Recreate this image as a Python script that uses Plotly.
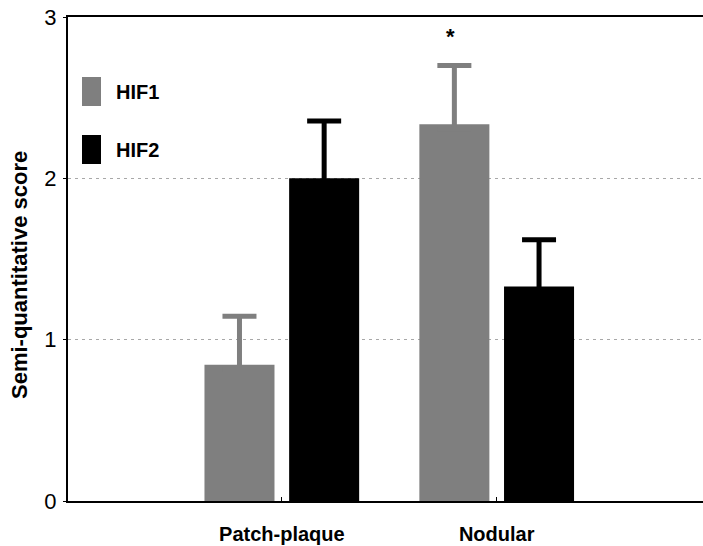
import plotly.graph_objects as go

categories = ["Patch-plaque", "Nodular"]
hif1 = [0.845, 2.335]
hif1_err = [0.30, 0.365]
hif2 = [2.0, 1.33]
hif2_err = [0.355, 0.29]
y_ticks = [0, 1, 2, 3]

FONT = "Liberation Sans, Arial, sans-serif"
GRAY = "#7f7f7f"

# lower end of the one-sided error bars is tucked inside the bar so its cap is hidden
hidden_minus = [0.03] * len(categories)

fig = go.Figure()
fig.add_trace(go.Bar(
    x=categories, y=hif1, name="HIF1", marker=dict(color=GRAY, line=dict(width=0)),
    error_y=dict(type="data", array=hif1_err, arrayminus=hidden_minus, symmetric=False,
                 color=GRAY, thickness=5, width=17),
))
fig.add_trace(go.Bar(
    x=categories, y=hif2, name="HIF2", marker=dict(color="#000000", line=dict(width=0)),
    error_y=dict(type="data", array=hif2_err, arrayminus=hidden_minus, symmetric=False,
                 color="#000000", thickness=5, width=17),
))

fig.update_layout(
    width=703, height=546,
    margin=dict(l=68, r=0, t=17, b=45),
    paper_bgcolor="white", plot_bgcolor="white",
    barmode="group", bargap=0.212, bargroupgap=0.173,
    showlegend=False,
    font=dict(family=FONT, color="#000"),
    xaxis=dict(
        range=[-0.995, 1.96], showline=True, linecolor="#000", linewidth=2,
        mirror=True, ticks="inside", ticklen=4, tickcolor="#000", tickwidth=1,
        showgrid=False, zeroline=False,
        tickfont=dict(family=FONT, size=20, color="#000", weight="bold"),
        ticklabelstandoff=14,
    ),
    yaxis=dict(
        range=[0, 3], tickvals=y_ticks, ticktext=[str(v) for v in y_ticks],
        showline=True, linecolor="#000", linewidth=2, mirror=False,
        ticks="outside", ticklen=3, tickcolor="#000",
        showgrid=True, gridcolor="#a8a8a8", griddash="3px,4px", gridwidth=1,
        zeroline=False, tickfont=dict(family=FONT, size=22, color="#000"),
        ticklabelstandoff=2,
    ),
)

# y-axis title
fig.add_annotation(
    text="<b>Semi-quantitative score</b>", textangle=-90,
    xref="paper", yref="paper", x=(19 - 68) / 635, y=(501 - 275) / 484,
    xanchor="center", yanchor="middle",
    showarrow=False, font=dict(family=FONT, size=22, color="#000"),
)

# significance asterisk above Nodular HIF1
fig.add_annotation(
    text="<b>*</b>", x=categories[1], y=hif1[1] + hif1_err[1],
    xshift=-46, yshift=14, yanchor="bottom", showarrow=False,
    font=dict(family=FONT, size=22, color="#000"),
)

# legend swatches and labels
legend_items = [("HIF1", GRAY), ("HIF2", "#000000")]
for i, (name, col) in enumerate(legend_items):
    top = 1 - (77 - 17) / 484 - i * (58 / 484)
    fig.add_shape(type="rect", xref="paper", yref="paper",
                  x0=(82 - 68) / 635, x1=(101 - 68) / 635,
                  y0=top - 29 / 484, y1=top, fillcolor=col, line=dict(width=0))
    fig.add_annotation(text=f"<b>{name}</b>", xref="paper", yref="paper",
                       x=(114 - 68) / 635, y=top - 14.5 / 484, xanchor="left",
                       yanchor="middle", showarrow=False,
                       font=dict(family=FONT, size=20, color="#000"))

fig.write_html(
    "out.html",
    config={"displayModeBar": False, "staticPlot": True},
    post_script="document.documentElement.style.margin='0';"
                "document.documentElement.style.overflow='hidden';"
                "document.body.style.margin='0';"
                "document.body.style.overflow='hidden';",
)
